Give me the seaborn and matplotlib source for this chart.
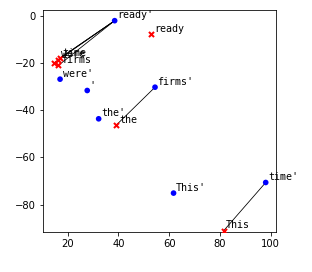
import matplotlib
matplotlib.use("Agg")
import matplotlib.pyplot as plt
import seaborn as sns
import pandas as pd

# blue points (words with apostrophe)
blue_words = ["ready'", "were'", "'", "firms'", "the'", "This'", "time'"]
blue_x = [38.5, 17.0, 27.7, 54.4, 32.2, 61.7, 98.0]
blue_y = [-2.0, -26.8, -31.6, -30.2, -43.6, -75.1, -70.6]

# red points (plain words)
red_words = ["ready", "time", "were", "firms", "", "the", "This"]
red_x = [53.0, 16.8, 16.2, 16.3, 14.5, 39.2, 81.4]
red_y = [-7.6, -18.0, -18.5, -21.0, -20.0, -46.2, -91.1]

# connections blue word -> red word
pairs = [("ready'", "time"), ("ready'", "were"), ("ready'", "firms"), ("ready'", ""),
         ("firms'", "the"), ("time'", "This")]

blue = pd.DataFrame({"word": blue_words, "x": blue_x, "y": blue_y})
red = pd.DataFrame({"word": red_words, "x": red_x, "y": red_y})

fig = plt.figure(figsize=(312 / 72, 272 / 72), dpi=72)
ax = fig.add_subplot(111)
fig.subplots_adjust(left=0.138, right=0.885, top=0.963, bottom=0.147)

for b, r in pairs:
    br = blue[blue.word == b].iloc[0]
    rr = red[red.word == r].iloc[0]
    ax.plot([br.x, rr.x], [br.y, rr.y], color="black", lw=0.8)

sns.scatterplot(data=blue, x="x", y="y", color="blue", marker="o", s=32,
                edgecolor="none", ax=ax, zorder=3)
sns.scatterplot(data=red, x="x", y="y", color="red", marker="x", s=26,
                linewidth=2, ax=ax, zorder=3)

for _, row in pd.concat([blue, red]).iterrows():
    ax.text(row.x + 1, row.y + 1, row.word, family="DejaVu Sans Mono", fontsize=10)

ax.set_xlim(10.3, 102.1)
ax.set_ylim(-91.6, 2.5)
ax.set_xticks([20, 40, 60, 80, 100])
ax.set_yticks([0, -20, -40, -60, -80])
ax.set_xlabel("")
ax.set_ylabel("")
ax.tick_params(labelsize=10)

fig.savefig("out.png", dpi=72)
